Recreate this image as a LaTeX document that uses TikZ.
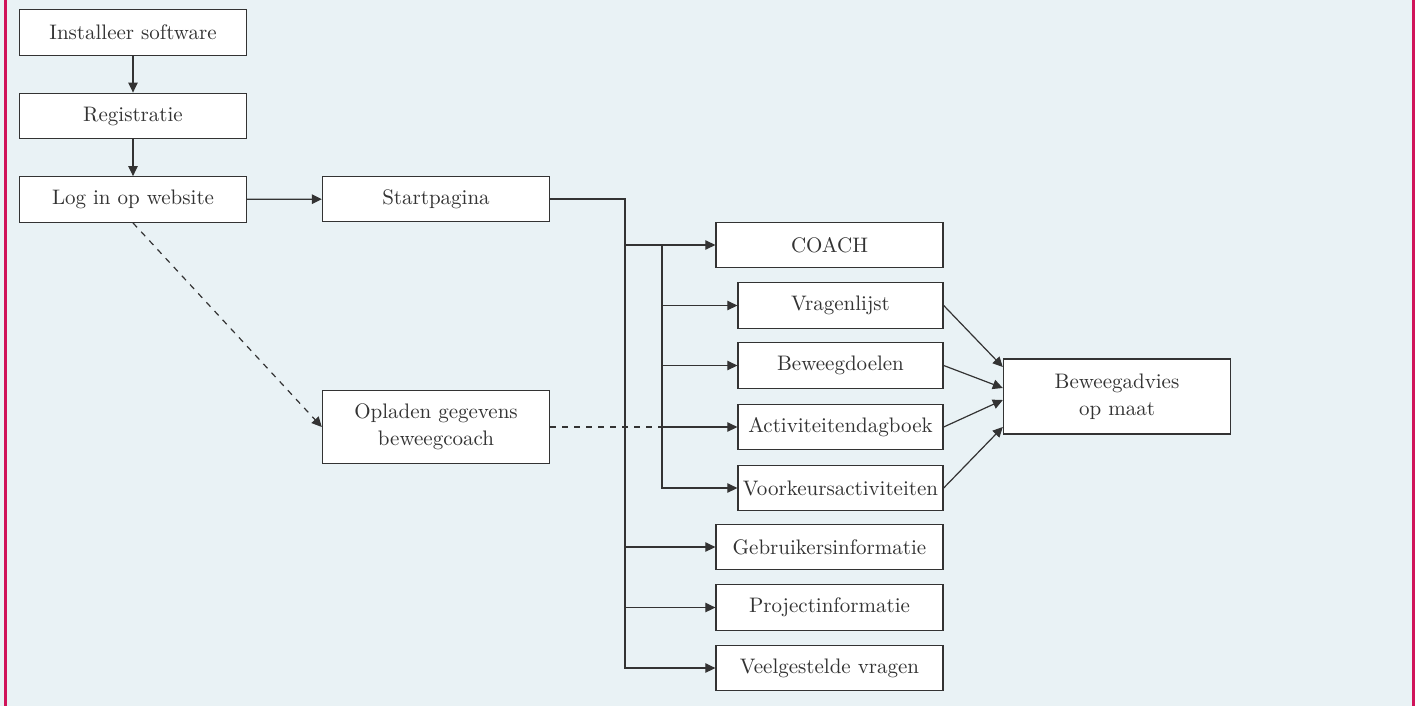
\documentclass[tikz,border=0pt]{standalone}
\usepackage{tikz}
\usetikzlibrary{calc,arrows.meta}
\definecolor{bgblue}{HTML}{E9F2F5}
\definecolor{rimred}{HTML}{D0145A}
\definecolor{inkgray}{HTML}{333333}

\begin{document}
\begin{tikzpicture}[x=0.5pt, y=-0.5pt,
		box/.style={draw=inkgray, fill=white, line width=0.7pt, text=inkgray, inner sep=0pt, align=center, minimum height=22.75pt, font=\fontsize{10.5}{12.5}\selectfont},
		widebox/.style={box, minimum width=113.5pt},
		subbox/.style={box, minimum width=102.5pt},
		arr/.style={draw=inkgray, line width=0.6pt, -{Triangle[length=5pt,width=4.8pt]}},
		link/.style={draw=inkgray, line width=0.6pt}]
			%%%%% START %%%%%
			
			\useasboundingbox (0, 0) rectangle (1415, 706);
			\fill[bgblue] (0, 0) rectangle (1415, 706);
			\fill[rimred] (3.5, 0) rectangle (6.5, 706);
			\fill[rimred] (1412, 0) rectangle (1415, 706);
			
			\node[widebox] (inst) at (133, 32.5) {Installeer software};
			\node[widebox] (reg) at (133, 116) {Registratie};
			\node[widebox] (login) at (133, 199.5) {Log in op website};
			\node[widebox] (start) at (436, 199) {Startpagina};
			\node[widebox, minimum height=36.5pt] (opladen) at (436, 427) {Opladen gegevens\\[1pt]beweegcoach};
			
			\node[widebox] (coach) at (829.5, 245) {COACH};
			\node[subbox] (vragen) at (840.5, 305.5) {Vragenlijst};
			\node[subbox] (doelen) at (840.5, 365.5) {Beweegdoelen};
			\node[subbox] (dagboek) at (840.5, 427) {Activiteitendagboek};
			\node[subbox] (voorkeur) at (840.5, 488) {Voorkeursactiviteiten};
			\node[widebox] (gebruik) at (829.5, 547) {Gebruikersinformatie};
			\node[widebox] (project) at (829.5, 607.5) {Projectinformatie};
			\node[widebox] (faq) at (829.5, 668) {Veelgestelde vragen};
			
			\node[widebox, minimum height=37.5pt] (advies) at (1117, 396.5) {Beweegadvies\\[1pt]op maat};
			
			\coordinate (bus) at (625, 0);
			\coordinate (sub) at (662, 0);
			
			\draw[arr] (inst) -- (reg);
			\draw[arr] (reg) -- (login);
			\draw[arr] (login) -- (start);
			
			\draw[arr] (start.east) -| (bus |- faq) -- (faq.west);
			\draw[arr] (bus |- coach) -- (coach.west);
			\draw[arr] (bus |- gebruik) -- (gebruik.west);
			\draw[arr] (bus |- project) -- (project.west);
			
			\draw[arr] (sub |- coach) |- (voorkeur.west);
			\draw[arr] (sub |- vragen) -- (vragen.west);
			\draw[arr] (sub |- doelen) -- (doelen.west);
			\draw[arr] (sub |- dagboek) -- (dagboek.west);
			
			\draw[arr, dashed] (login.south) -- (opladen.west);
			\draw[link, dashed] (opladen.east) -- (sub |- dagboek);
			
			\draw[arr] (vragen.east) -- ($(advies.west)+(0, -29.5)$);
			\draw[arr] (doelen.east) -- ($(advies.west)+(0, -8.5)$);
			\draw[arr] (dagboek.east) -- ($(advies.west)+(0, 3.5)$);
			\draw[arr] (voorkeur.east) -- ($(advies.west)+(0, 30.5)$);
			
			%%%%% END %%%%%
\end{tikzpicture}
\end{document}
